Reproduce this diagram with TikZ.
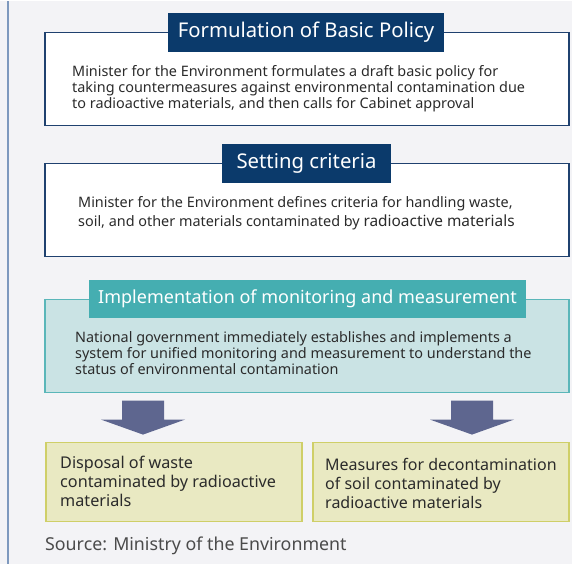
\documentclass[tikz,border=0pt]{standalone}
\usepackage{fontspec}
\setmainfont{Noto Sans}
\usepackage{tikz}

\definecolor{bg}{HTML}{F3F3F6}
\definecolor{navy}{HTML}{0B3A6B}
\definecolor{frame}{HTML}{1F416F}
\definecolor{teal}{HTML}{45AEB1}
\definecolor{tealfill}{HTML}{CAE3E4}
\definecolor{tealline}{HTML}{5AB6B9}
\definecolor{olivefill}{HTML}{E9E9C2}
\definecolor{oliveline}{HTML}{CFCF68}
\definecolor{arrowc}{HTML}{5E668F}
\definecolor{txt}{HTML}{2B2B2B}
\definecolor{rule}{HTML}{7E99BE}

\begin{document}
\begin{tikzpicture}[x=1pt, y=1pt,
    box/.style = {draw=frame, line width=1.1pt, fill=white, minimum width=524pt, minimum height=93pt, inner sep=0pt},
    head/.style = {fill=navy, text=white, font=\fontsize{20.3}{20}\selectfont, minimum height=39pt, inner sep=0pt},
    body/.style = {anchor=west, align=left, text=txt, inner sep=0pt, font=\fontsize{14.4}{16}\selectfont},
    small/.style = {draw=oliveline, line width=1.1pt, fill=olivefill, minimum width=256pt, minimum height=79pt, inner sep=0pt},
    arw/.style = {fill=arrowc}]

    \fill[bg] (0,0) rectangle (572,563);
    \draw[rule, line width=1.2pt] (8,0) -- (8,563);

    % basic policy
    \node[box] (b1) at (307,484.5) {};
    \node[head, minimum width=276pt] (h1) at (306,531.5) {Formulation of Basic Policy};
    \node[body] (t1) at (72,475) {Minister for the Environment formulates a draft basic policy for\\
        taking countermeasures against environmental contamination due\\
        to radioactive materials, and then calls for Cabinet approval};

    % criteria
    \node[box] (b2) at (307,354) {};
    \node[head, minimum width=169pt] (h2) at (306.5,400.5) {Setting criteria};
    \node[body, font=\fontsize{14.4}{18.5}\selectfont] (t2) at (78,350.5) {Minister for the Environment defines criteria for handling waste,\\
        soil, and other materials contaminated by {\fontsize{15.4}{18.5}\selectfont radioactive materials}};

    % monitoring
    \node[box, draw=tealline, fill=tealfill] (b3) at (307,218) {};
    \node[head, fill=teal, font=\fontsize{18}{18}\selectfont, minimum width=437pt, minimum height=38pt] (h3) at (307.5,265) {Implementation of monitoring and measurement};
    \node[body] (t3) at (75,210) {National government immediately establishes and implements a\\
        system for unified monitoring and measurement to understand the\\
        status of environmental contamination};

    % block arrows
    \fill[arw] (122,163) -- (164,163) -- (164,144) -- (185,144) -- (143,129) -- (101,144) -- (122,144) -- cycle;
    \fill[arw] (451,163) -- (493,163) -- (493,144) -- (514,144) -- (472,129) -- (430,144) -- (451,144) -- cycle;

    \node[small] (b4) at (174,81.5) {};
    \node[body, font=\fontsize{16.2}{19}\selectfont] (t4) at (60,82) {Disposal of waste\\
        contaminated by radioactive\\
        materials};
    \node[small] (b5) at (441,81.5) {};
    \node[body, font=\fontsize{16}{19}\selectfont] (t5) at (325,80) {Measures for decontamination\\
        of soil contaminated by\\
        radioactive materials};

    \node[anchor=west, inner sep=0pt, text=txt!85, font=\fontsize{17.8}{18}\selectfont] (src) at (45,18) {Source: Ministry of the Environment};
\end{tikzpicture}
\end{document}
